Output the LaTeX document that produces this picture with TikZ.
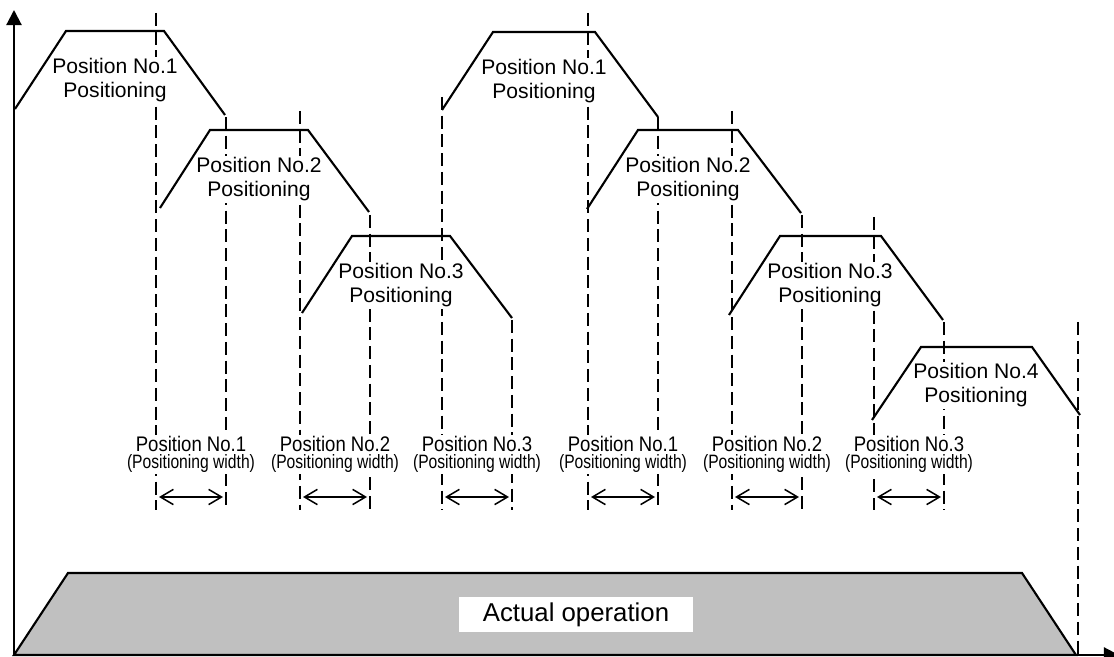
\documentclass[tikz,border=0pt]{standalone}
\usepackage{fontspec}
\setmainfont{Liberation Sans}
\usepackage{graphicx}
\usepackage{xcolor}
\usepackage{tikz}
\usetikzlibrary{arrows.meta}
\definecolor{opgray}{RGB}{192,192,192}
\tikzset{
  axisline/.style   = {line width=1.8pt, -{Triangle[length=13pt,width=13pt]}},
  guide/.style      = {draw=black, line width=1.3pt, dash pattern=on 11pt off 5pt},
  ramp/.style       = {draw=black, line width=1.8pt, line join=miter},
  poslbl/.style     = {font=\fontsize{18pt}{20.5pt}\selectfont, align=center, fill=white, inner sep=1pt},
  widlbl/.style     = {font=\fontsize{18pt}{14.5pt}\selectfont, align=center, fill=white, inner sep=1.5pt},
  widarrow/.style   = {{Straight Barb[length=11pt,width=13pt]}-{Straight Barb[length=11pt,width=13pt]}, line width=1.3pt},
  opbox/.style      = {draw=black, fill=opgray, line width=1.8pt, line join=miter},
  oplbl/.style      = {fill=white, font=\fontsize{22pt}{24pt}\selectfont, minimum width=7.02cm, minimum height=1.05cm, inner sep=0pt},
}
\newcommand{\widsubfont}{\fontsize{16.5pt}{14.5pt}\selectfont}

\begin{document}
\begin{tikzpicture}[x=0.03cm,y=-0.03cm]
  \useasboundingbox (0,0) rectangle (1114,657);

  % guide lines
  \foreach \x/\t/\b in {156/13/510, 226/117/510, 300/111/510, 370/215/510, 442/97/510, 512/320/510,
                        588/13/510, 658/117/510, 732/111/510, 802/215/510, 874/217/510, 944/322/510, 1078/322/655} {
    \draw[guide] (\x,\t) -- (\x,\b);
  }

  % actual operation
  \draw[opbox] (14,655) -- (68,573) -- (1022,573) -- (1076,655) -- cycle;
  \node[oplbl] (actual) at (576,614.5) {Actual operation};

  % axes
  \coordinate (origin) at (14,655);
  \coordinate (ytip) at (14,10);
  \coordinate (xtip) at (1119,655);
  \draw[axisline] (origin) -- (ytip);
  \draw[axisline] (origin) -- (xtip);

  % positioning labels
  \foreach \n/\x/\y/\k in {1/115/80.5/a1, 2/259/179.5/a2, 3/401/285.5/a3,
                           1/544/81/b1, 2/688/179.5/b2, 3/830/285.5/b3, 4/976/385.5/b4} {
    \node[poslbl] (pos\k) at (\x,\y) {Position No.\n\\Positioning};
  }

  % ramps
  \foreach \xa/\xb/\xc/\xd/\ya/\yb/\yc in {15/66/164/225/109/31/115, 160/210/308/369/208/130/212,
                                          302/352/450/512/313/236/318, 442/493/595/658/110/32/117,
                                          587/638/738/801/209/130/213, 729/780/881/943/315/236/320,
                                          872/921/1032/1080/420/347/415} {
    \draw[ramp] (\xa,\ya) -- (\xb,\yb) -- (\xc,\yb) -- (\xd,\yc);
  }

  % positioning widths
  \foreach \n/\a/\b/\i in {1/156/226/1, 2/300/370/2, 3/442/512/3, 1/588/658/4, 2/732/802/5, 3/874/944/6} {
    \node[widlbl] (w\i) at ({(\a+\b)/2},454.5)
      {\scalebox{0.88}[1]{Position No.\n}\\{\widsubfont\scalebox{0.81}[1]{(Positioning width)}}};
    \coordinate (wl\i) at (\a+3,497);
    \coordinate (wr\i) at (\b-3,497);
    \draw[widarrow] (wl\i) -- (wr\i);
  }
\end{tikzpicture}
\end{document}
